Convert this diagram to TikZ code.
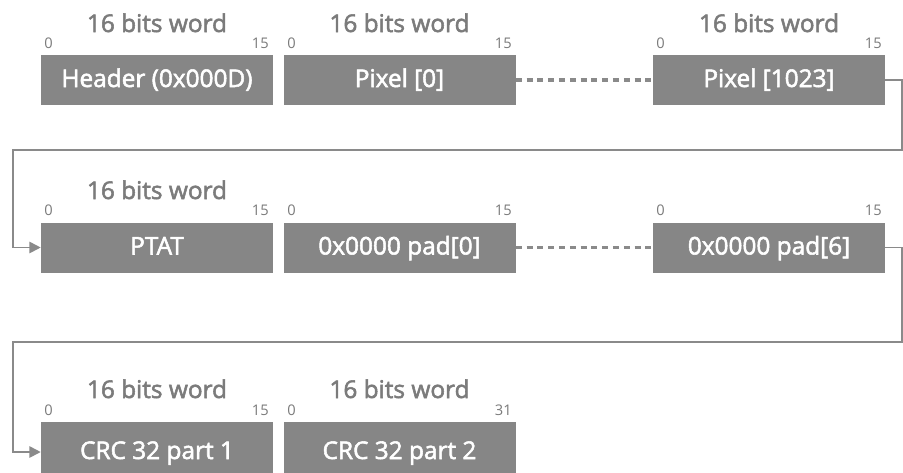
\documentclass[tikz,border=0pt]{standalone}
\usepackage{fontspec}
\setmainfont{Open Sans}
\newfontfamily\semib[FakeBold=2.2]{Open Sans}
\usetikzlibrary{arrows.meta}
\definecolor{boxgray}{HTML}{868686}
\definecolor{txtgray}{HTML}{7B7B7B}
\definecolor{linegray}{HTML}{8A8A8A}
\tikzset{
  wordbox/.style={draw=none, fill=boxgray, text=white, minimum width=174pt, minimum height=37.5pt,
    inner sep=0pt, font=\semib\fontsize{18.3}{20}\selectfont, text height=10.5pt, text depth=0pt},
  tallbox/.style={wordbox, minimum height=45pt},
  wtitle/.style={anchor=base, text=txtgray, font=\semib\fontsize{18.3}{20}\selectfont, inner sep=0pt},
  bitl/.style={anchor=base west, text=txtgray, font=\fontsize{11}{13}\selectfont, inner sep=0pt},
  bitr/.style={anchor=base east, text=txtgray, font=\fontsize{11}{13}\selectfont, inner sep=0pt},
  conn/.style={draw=linegray, line width=1.3pt},
  arr/.style={conn, -{Triangle[length=8.5pt,width=8.5pt]}},
  gap/.style={draw=linegray, line width=2.3pt, dash pattern=on 4.5pt off 3.6pt}
}
\begin{document}
\begin{tikzpicture}[x=0.75pt,y=-0.75pt]
\fill[white] (0,0) rectangle (903,472);
\clip (0,0) rectangle (903,472);
\useasboundingbox (0,0) rectangle (903,472);
% row 1
\node[wordbox] (hdr) at (157,80) {Header (0x000D)};
\node[wordbox] (px0) at (399.5,80) {Pixel [0]};
\node[wordbox] (pxN) at (769,80) {Pixel [1023]};
\node[wtitle] (t11) at (157,32) {16 bits word};
\node[wtitle] (t12) at (399.5,32) {16 bits word};
\node[wtitle] (t13) at (769,32) {16 bits word};
\node[bitl] (a11) at (44,48) {0};
\node[bitr] (b11) at (269,48) {15};
\node[bitl] (a12) at (287,48) {0};
\node[bitr] (b12) at (512,48) {15};
\node[bitl] (a13) at (656,48) {0};
\node[bitr] (b13) at (882,48) {15};
\draw[gap] (px0.east) -- (pxN.west);
% row 2
\node[wordbox] (ptat) at (157,247.5) {PTAT};
\node[wordbox] (pad0) at (399.5,247.5) {0x0000 pad[0]};
\node[wordbox] (pad6) at (769,247.5) {0x0000 pad[6]};
\node[wtitle] (t21) at (157,199) {16 bits word};
\node[bitl] (a21) at (44,215) {0};
\node[bitr] (b21) at (269,215) {15};
\node[bitl] (a22) at (287,215) {0};
\node[bitr] (b22) at (512,215) {15};
\node[bitl] (a23) at (656,215) {0};
\node[bitr] (b23) at (882,215) {15};
\draw[gap] (pad0.east) -- (pad6.west);
% row 3
\node[tallbox] (crc1) at (157,452) {CRC 32 part 1};
\node[tallbox] (crc2) at (399.5,452) {CRC 32 part 2};
\node[wtitle] (t31) at (157,398) {16 bits word};
\node[wtitle] (t32) at (399.5,398) {16 bits word};
\node[bitl] (a31) at (44,415) {0};
\node[bitr] (b31) at (269,415) {15};
\node[bitl] (a32) at (287,415) {0};
\node[bitr] (b32) at (512,415) {31};
% connectors
\coordinate (r1a) at (902,80);
\coordinate (r1b) at (902,150);
\coordinate (l1) at (13,150);
\draw[arr] (pxN.east) -- (r1a) -- (r1b) -- (l1) |- (ptat.west);
\coordinate (r2a) at (902,247.5);
\coordinate (r2b) at (902,342);
\coordinate (l2) at (13,342);
\draw[arr] (pad6.east) -- (r2a) -- (r2b) -- (l2) |- (crc1.west);
\end{tikzpicture}
\end{document}
